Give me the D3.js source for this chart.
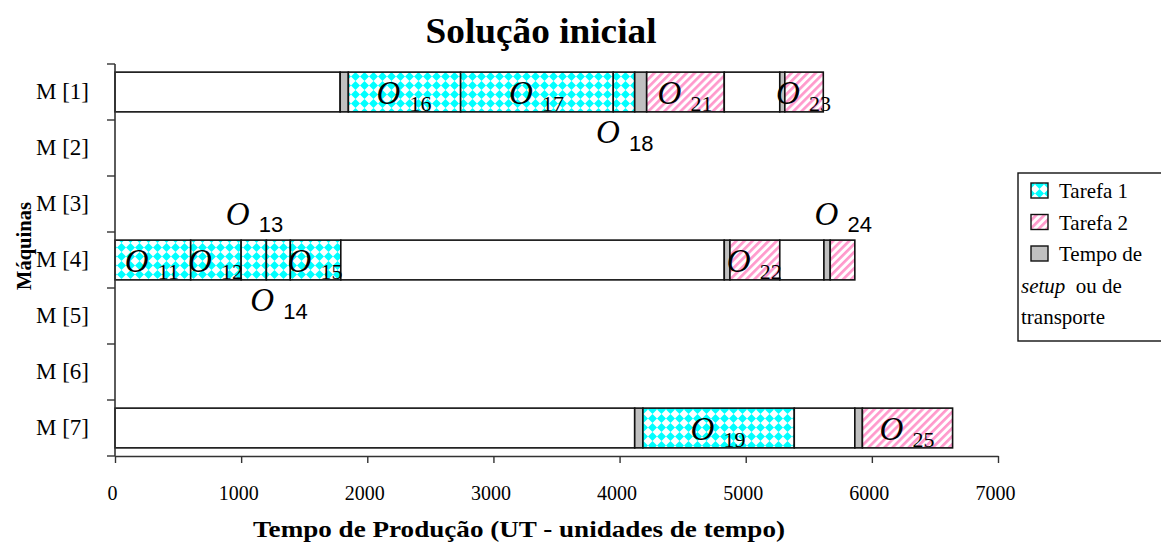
<!DOCTYPE html>
<html>
<head>
<meta charset="utf-8">
<script src="https://cdn.jsdelivr.net/npm/d3@7"></script>
<style>
  html, body { margin: 0; padding: 0; background: #fff; }
  svg { display: block; }
</style>
</head>
<body>
<svg id="chart" width="1161" height="550"></svg>
<script>
// ---------------- DATA ----------------
const machines = ["M [1]", "M [2]", "M [3]", "M [4]", "M [5]", "M [6]", "M [7]"];
const xTicks = [0, 1000, 2000, 3000, 4000, 5000, 6000, 7000];

// one entry per bar segment
const segMachine = [
  "M [1]", "M [1]", "M [1]", "M [1]", "M [1]", "M [1]", "M [1]", "M [1]", "M [1]", "M [1]",
  "M [4]", "M [4]", "M [4]", "M [4]", "M [4]", "M [4]", "M [4]", "M [4]", "M [4]", "M [4]", "M [4]",
  "M [7]", "M [7]", "M [7]", "M [7]", "M [7]", "M [7]"
];
const segStart = [
  0, 1785, 1850, 2740, 3950, 4120, 4215, 4830, 5270, 5310,
  0, 600, 1000, 1200, 1390, 1790, 4830, 4875, 5270, 5620, 5670,
  0, 4120, 4185, 5385, 5865, 5925
];
const segEnd = [
  1785, 1850, 2740, 3950, 4120, 4215, 4830, 5270, 5310, 5615,
  600, 1000, 1200, 1390, 1790, 4830, 4875, 5270, 5620, 5670, 5865,
  4120, 4185, 5385, 5865, 5925, 6640
];
// idle = white, setup = gray, t1 = Tarefa 1, t2 = Tarefa 2
const segKind = [
  "idle", "setup", "t1", "t1", "t1", "setup", "t2", "idle", "setup", "t2",
  "t1", "t1", "t1", "t1", "t1", "idle", "setup", "t2", "idle", "setup", "t2",
  "idle", "setup", "t1", "idle", "setup", "t2"
];
const segOp = [
  "", "", "16", "17", "18", "", "21", "", "", "23",
  "11", "12", "13", "14", "15", "", "", "22", "", "", "24",
  "", "", "19", "", "", "25"
];
const segLabelPos = [
  "", "", "in", "in", "below", "", "in", "", "", "in",
  "in", "in", "above", "below", "in", "", "", "in", "", "", "above",
  "", "", "in", "", "", "in"
];

const legendNames = ["Tarefa 1", "Tarefa 2", "Tempo de"];
const legendKinds = ["t1", "t2", "setup"];

const title = "Solução inicial";
const xTitle = "Tempo de Produção (UT - unidades de tempo)";
const yTitle = "Máquinas";

// ---------------- DRAW ----------------
const serif = "'Liberation Serif', 'Times New Roman', serif";
const sans = "'Liberation Sans', Arial, sans-serif";
const svg = d3.select("#chart");

const defs = svg.append("defs");
const p1 = defs.append("pattern").attr("id", "pt1")
  .attr("patternUnits", "userSpaceOnUse").attr("width", 9).attr("height", 9);
p1.append("rect").attr("width", 9).attr("height", 9).attr("fill", "#fff");
p1.append("polygon").attr("points", "4.5,0 9,4.5 4.5,9 0,4.5").attr("fill", "#00FFFF");

const p2 = defs.append("pattern").attr("id", "pt2")
  .attr("patternUnits", "userSpaceOnUse").attr("width", 5.7).attr("height", 5.7)
  .attr("patternTransform", "rotate(45)");
p2.append("rect").attr("width", 5.7).attr("height", 5.7).attr("fill", "#fff");
p2.append("rect").attr("width", 2.7).attr("height", 5.7).attr("fill", "#FF99CC");

const fillOf = k => k === "t1" ? "url(#pt1)" : k === "t2" ? "url(#pt2)" : k === "setup" ? "#C0C0C0" : "#fff";

const x = d3.scaleLinear().domain([0, 7000]).range([115, 998]);
const y = d3.scaleBand().domain(machines).range([64, 456]).paddingInner(0.29).paddingOuter(0.145);

const segs = segStart.map((s, i) => ({
  m: segMachine[i], s, e: segEnd[i], kind: segKind[i], op: segOp[i], pos: segLabelPos[i]
}));

// bars
svg.append("g").selectAll("rect").data(segs).join("rect")
  .attr("x", d => x(d.s))
  .attr("y", d => y(d.m))
  .attr("width", d => x(d.e) - x(d.s))
  .attr("height", y.bandwidth())
  .attr("fill", d => fillOf(d.kind))
  .attr("stroke", "#111")
  .attr("stroke-width", 1.6);

// axes
const axisColor = "#333";
const xAxis = svg.append("g").attr("transform", "translate(0,456)")
  .call(d3.axisBottom(x).tickValues(xTicks).tickFormat(d3.format("d"))
    .tickSize(7).tickPadding(23).tickSizeOuter(0));
xAxis.select(".domain").attr("stroke", axisColor).attr("stroke-width", 1.6);
xAxis.selectAll(".tick line").attr("stroke", axisColor).attr("stroke-width", 1.4);
xAxis.selectAll(".tick text").attr("font-family", serif).attr("font-size", 20)
  .attr("fill", "#000").attr("dx", -3);

const yAxis = svg.append("g").attr("transform", "translate(115,0)")
  .call(d3.axisLeft(y).tickSize(0).tickPadding(26));
yAxis.select(".domain").remove();
yAxis.selectAll(".tick text").attr("font-family", serif).attr("font-size", 23).attr("fill", "#000");

const step = y.step();
const bounds = machines.map(m => y(m) - step * y.paddingOuter()).concat([456]);
svg.append("line").attr("x1", 115).attr("x2", 115).attr("y1", 64).attr("y2", 456)
  .attr("stroke", axisColor).attr("stroke-width", 1.6);
svg.append("g").selectAll("line").data(bounds).join("line")
  .attr("x1", 107).attr("x2", 115).attr("y1", d => d).attr("y2", d => d)
  .attr("stroke", axisColor).attr("stroke-width", 1.4);

// operation labels
const labels = svg.append("g");
segs.filter(d => d.op).forEach(d => {
  const cx = (x(d.s) + x(d.e)) / 2;
  const cy = y(d.m) + y.bandwidth() / 2;
  let oy, sy;
  if (d.pos === "in") { oy = cy + 11.5; sy = cy + 18.5; }
  else if (d.pos === "below") { oy = cy + 51; sy = cy + 59; }
  else { oy = cy - 35; sy = cy - 28; }
  labels.append("text").attr("x", cx - 28).attr("y", oy)
    .attr("font-family", serif).attr("font-style", "italic").attr("font-size", 33)
    .attr("fill", "#000").text("O");
  labels.append("text").attr("x", cx + 5).attr("y", sy)
    .attr("font-family", d.pos === "in" ? serif : sans).attr("font-size", 22)
    .attr("fill", "#000").text(d.op);
});

// title
svg.append("text").attr("x", 541).attr("y", 43).attr("text-anchor", "middle")
  .attr("font-family", serif).attr("font-weight", "bold").attr("font-size", 35)
  .attr("textLength", 231).attr("lengthAdjust", "spacingAndGlyphs")
  .text(title);

// x title
svg.append("text").attr("x", 519).attr("y", 537).attr("text-anchor", "middle")
  .attr("font-family", serif).attr("font-weight", "bold").attr("font-size", 23)
  .attr("textLength", 532).attr("lengthAdjust", "spacingAndGlyphs")
  .text(xTitle);

// y title
svg.append("text").attr("transform", "translate(31,246) rotate(-90)").attr("text-anchor", "middle")
  .attr("font-family", serif).attr("font-weight", "bold").attr("font-size", 21)
  .attr("textLength", 88).attr("lengthAdjust", "spacingAndGlyphs")
  .text(yTitle);

// legend
const lg = svg.append("g");
lg.append("rect").attr("x", 1018).attr("y", 173).attr("width", 150).attr("height", 168)
  .attr("fill", "#fff").attr("stroke", "#111").attr("stroke-width", 1.4);
legendKinds.forEach((k, i) => {
  const by = 198 + i * 31.5;
  lg.append("rect").attr("x", 1031).attr("y", by - 15).attr("width", 17).attr("height", 15)
    .attr("fill", fillOf(k)).attr("stroke", "#111").attr("stroke-width", 1.4);
  lg.append("text").attr("x", 1059).attr("y", by).attr("font-family", serif)
    .attr("font-size", 21).text(legendNames[i]);
});
const l4 = lg.append("text").attr("x", 1021).attr("y", 293).attr("font-family", serif).attr("font-size", 21);
l4.append("tspan").attr("font-style", "italic").text("setup");
l4.append("tspan").text("\u00a0 ou de");
lg.append("text").attr("x", 1021).attr("y", 324).attr("font-family", serif).attr("font-size", 21)
  .text("transporte");
</script>
</body>
</html>
